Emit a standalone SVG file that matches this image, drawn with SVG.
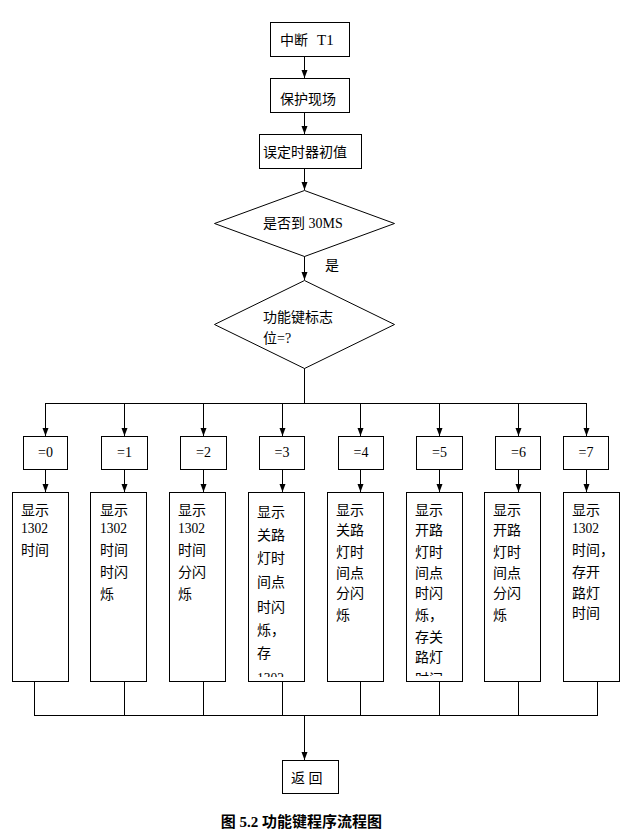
<svg xmlns="http://www.w3.org/2000/svg" width="630" height="838" viewBox="0 0 630 838">
<style>
  .box { fill: #ffffff; stroke: #000000; stroke-width: 1; }
  .ln { fill: none; stroke: #000000; stroke-width: 1; }
  .arr { fill: none; stroke: #000000; stroke-width: 1; marker-end: url(#ah); }
  .t { font-family: "Liberation Serif", "Noto Sans CJK SC", serif; font-size: 14px; fill: #000000; }
  .d { font-size: 15px; }
  .c { text-anchor: middle; }
  .cap { font-family: "Liberation Serif", "Noto Sans CJK SC", serif; font-size: 15px; font-weight: bold; text-anchor: middle; fill: #000000; }
</style>
<defs>
  <marker id="ah" markerUnits="userSpaceOnUse" markerWidth="8" markerHeight="8" viewBox="0 0 8 8" refX="8" refY="4" orient="auto">
    <path d="M0,1 L8,4 L0,7 z" fill="#000000"/>
  </marker>
  <clipPath id="clip3"><rect x="248" y="492" width="57" height="185"/></clipPath>
  <clipPath id="clip5"><rect x="406" y="492" width="57" height="184"/></clipPath>
</defs>
<rect width="630" height="838" fill="#ffffff"/>

<g id="connectors">
  <line class="arr" x1="304.5" y1="56" x2="304.5" y2="78"/>
  <line class="arr" x1="304.5" y1="112" x2="304.5" y2="134"/>
  <line class="arr" x1="304.5" y1="168" x2="304.5" y2="190"/>
  <line class="arr" x1="304.5" y1="256" x2="304.5" y2="280"/>
  <text class="t" x="325" y="270">是</text>
  <line class="ln" x1="304.5" y1="368" x2="304.5" y2="403.5"/>
  <line class="ln" x1="45" y1="403.5" x2="587" y2="403.5"/>
  <line class="arr" x1="45.5" y1="403" x2="45.5" y2="436"/>
  <line class="arr" x1="124.5" y1="403" x2="124.5" y2="436"/>
  <line class="arr" x1="203.5" y1="403" x2="203.5" y2="436"/>
  <line class="arr" x1="282.5" y1="403" x2="282.5" y2="436"/>
  <line class="arr" x1="360.5" y1="403" x2="360.5" y2="436"/>
  <line class="arr" x1="439.5" y1="403" x2="439.5" y2="436"/>
  <line class="arr" x1="518.5" y1="403" x2="518.5" y2="436"/>
  <line class="arr" x1="586.5" y1="403" x2="586.5" y2="436"/>
  <line class="arr" x1="45.5" y1="469" x2="45.5" y2="492"/>
  <line class="arr" x1="124.5" y1="469" x2="124.5" y2="492"/>
  <line class="arr" x1="203.5" y1="469" x2="203.5" y2="492"/>
  <line class="arr" x1="282.5" y1="469" x2="282.5" y2="492"/>
  <line class="arr" x1="360.5" y1="469" x2="360.5" y2="492"/>
  <line class="arr" x1="439.5" y1="469" x2="439.5" y2="492"/>
  <line class="arr" x1="518.5" y1="469" x2="518.5" y2="492"/>
  <line class="arr" x1="586.5" y1="469" x2="586.5" y2="492"/>
  <line class="ln" x1="34.5" y1="681" x2="34.5" y2="715.5"/>
  <line class="ln" x1="124.5" y1="681" x2="124.5" y2="715.5"/>
  <line class="ln" x1="203.5" y1="681" x2="203.5" y2="715.5"/>
  <line class="ln" x1="282.5" y1="681" x2="282.5" y2="715.5"/>
  <line class="ln" x1="360.5" y1="681" x2="360.5" y2="715.5"/>
  <line class="ln" x1="439.5" y1="681" x2="439.5" y2="715.5"/>
  <line class="ln" x1="518.5" y1="681" x2="518.5" y2="715.5"/>
  <line class="ln" x1="597.5" y1="681" x2="597.5" y2="715.5"/>
  <line class="ln" x1="34" y1="715.5" x2="598" y2="715.5"/>
  <line class="arr" x1="304.5" y1="715" x2="304.5" y2="760"/>
</g>

<g id="n-start">
  <rect class="box" x="270.5" y="22.5" width="79" height="34"/>
  <text class="t" x="280" y="45">中断<tspan x="317" class="d">T1</tspan></text>
</g>
<g id="n-save">
  <rect class="box" x="270.5" y="78.5" width="79" height="34"/>
  <text class="t" x="280" y="104">保护现场</text>
</g>
<g id="n-timer">
  <rect class="box" x="259.5" y="134.5" width="102" height="34"/>
  <text class="t" x="263" y="157">误定时器初值</text>
</g>
<g id="n-30ms">
  <polygon class="box" points="304.5,190.5 394.5,223.5 304.5,256.5 214.5,223.5"/>
  <text class="t" x="263" y="228">是否到 30MS</text>
</g>
<g id="n-flag">
  <polygon class="box" points="304.5,280.5 394.5,324.5 304.5,368.5 214.5,324.5"/>
  <text class="t" x="263" y="322">功能键标志</text>
  <text class="t" x="263" y="343">位=?</text>
</g>

<g id="n-eq0"><rect class="box" x="23.5" y="436.5" width="44" height="33"/><text class="t c" x="45.5" y="457">=0</text></g>
<g id="n-eq1"><rect class="box" x="101.5" y="436.5" width="46" height="33"/><text class="t c" x="124.5" y="457">=1</text></g>
<g id="n-eq2"><rect class="box" x="180.5" y="436.5" width="46" height="33"/><text class="t c" x="203.5" y="457">=2</text></g>
<g id="n-eq3"><rect class="box" x="259.5" y="436.5" width="45" height="33"/><text class="t c" x="282" y="457">=3</text></g>
<g id="n-eq4"><rect class="box" x="338.5" y="436.5" width="45" height="33"/><text class="t c" x="361" y="457">=4</text></g>
<g id="n-eq5"><rect class="box" x="416.5" y="436.5" width="46" height="33"/><text class="t c" x="439.5" y="457">=5</text></g>
<g id="n-eq6"><rect class="box" x="495.5" y="436.5" width="45" height="33"/><text class="t c" x="518.5" y="457">=6</text></g>
<g id="n-eq7"><rect class="box" x="563.5" y="436.5" width="45" height="33"/><text class="t c" x="586" y="457">=7</text></g>

<g id="n-act0">
  <rect class="box" x="12.5" y="492.5" width="56" height="189"/>
  <text class="t" x="21" y="515">显示</text>
  <text class="t d" x="21" y="533" textLength="27" lengthAdjust="spacingAndGlyphs">1302</text>
  <text class="t" x="21" y="555">时间</text>
</g>
<g id="n-act1">
  <rect class="box" x="90.5" y="492.5" width="56" height="189"/>
  <text class="t" x="100" y="515">显示</text>
  <text class="t d" x="100" y="533" textLength="27" lengthAdjust="spacingAndGlyphs">1302</text>
  <text class="t" x="100" y="555">时间</text>
  <text class="t" x="100" y="577">时闪</text>
  <text class="t" x="100" y="599">烁</text>
</g>
<g id="n-act2">
  <rect class="box" x="169.5" y="492.5" width="56" height="189"/>
  <text class="t" x="178" y="515">显示</text>
  <text class="t d" x="178" y="533" textLength="27" lengthAdjust="spacingAndGlyphs">1302</text>
  <text class="t" x="178" y="555">时间</text>
  <text class="t" x="178" y="577">分闪</text>
  <text class="t" x="178" y="599">烁</text>
</g>
<g id="n-act3">
  <rect class="box" x="248.5" y="492.5" width="56" height="189"/>
  <g clip-path="url(#clip3)">
    <text class="t" x="257" y="517">显示</text>
    <text class="t" x="257" y="540">关路</text>
    <text class="t" x="257" y="563">灯时</text>
    <text class="t" x="257" y="587">间点</text>
    <text class="t" x="257" y="612">时闪</text>
    <text class="t" x="257" y="635">烁，</text>
    <text class="t" x="257" y="658">存</text>
    <text class="t d" x="257" y="683" textLength="27" lengthAdjust="spacingAndGlyphs">1302</text>
  </g>
</g>
<g id="n-act4">
  <rect class="box" x="327.5" y="492.5" width="56" height="189"/>
  <text class="t" x="336" y="515">显示</text>
  <text class="t" x="336" y="535">关路</text>
  <text class="t" x="336" y="557">灯时</text>
  <text class="t" x="336" y="578">间点</text>
  <text class="t" x="336" y="598">分闪</text>
  <text class="t" x="336" y="620">烁</text>
</g>
<g id="n-act5">
  <rect class="box" x="406.5" y="492.5" width="56" height="189"/>
  <g clip-path="url(#clip5)">
    <text class="t" x="415" y="515">显示</text>
    <text class="t" x="415" y="535">开路</text>
    <text class="t" x="415" y="557">灯时</text>
    <text class="t" x="415" y="578">间点</text>
    <text class="t" x="415" y="598">时闪</text>
    <text class="t" x="415" y="620">烁，</text>
    <text class="t" x="415" y="642">存关</text>
    <text class="t" x="415" y="662">路灯</text>
    <text class="t" x="415" y="684">时间</text>
  </g>
</g>
<g id="n-act6">
  <rect class="box" x="484.5" y="492.5" width="56" height="189"/>
  <text class="t" x="493" y="515">显示</text>
  <text class="t" x="493" y="535">开路</text>
  <text class="t" x="493" y="557">灯时</text>
  <text class="t" x="493" y="578">间点</text>
  <text class="t" x="493" y="598">分闪</text>
  <text class="t" x="493" y="620">烁</text>
</g>
<g id="n-act7">
  <rect class="box" x="563.5" y="492.5" width="56" height="189"/>
  <text class="t" x="572" y="515">显示</text>
  <text class="t d" x="572" y="533" textLength="27" lengthAdjust="spacingAndGlyphs">1302</text>
  <text class="t" x="572" y="555">时间，</text>
  <text class="t" x="572" y="577">存开</text>
  <text class="t" x="572" y="598">路灯</text>
  <text class="t" x="572" y="618">时间</text>
</g>

<g id="n-return">
  <rect class="box" x="282.5" y="760.5" width="56" height="33"/>
  <text class="t" x="291" y="783">返 回</text>
</g>

<text class="cap" x="301.5" y="827">图 5.2 功能键程序流程图</text>
</svg>
